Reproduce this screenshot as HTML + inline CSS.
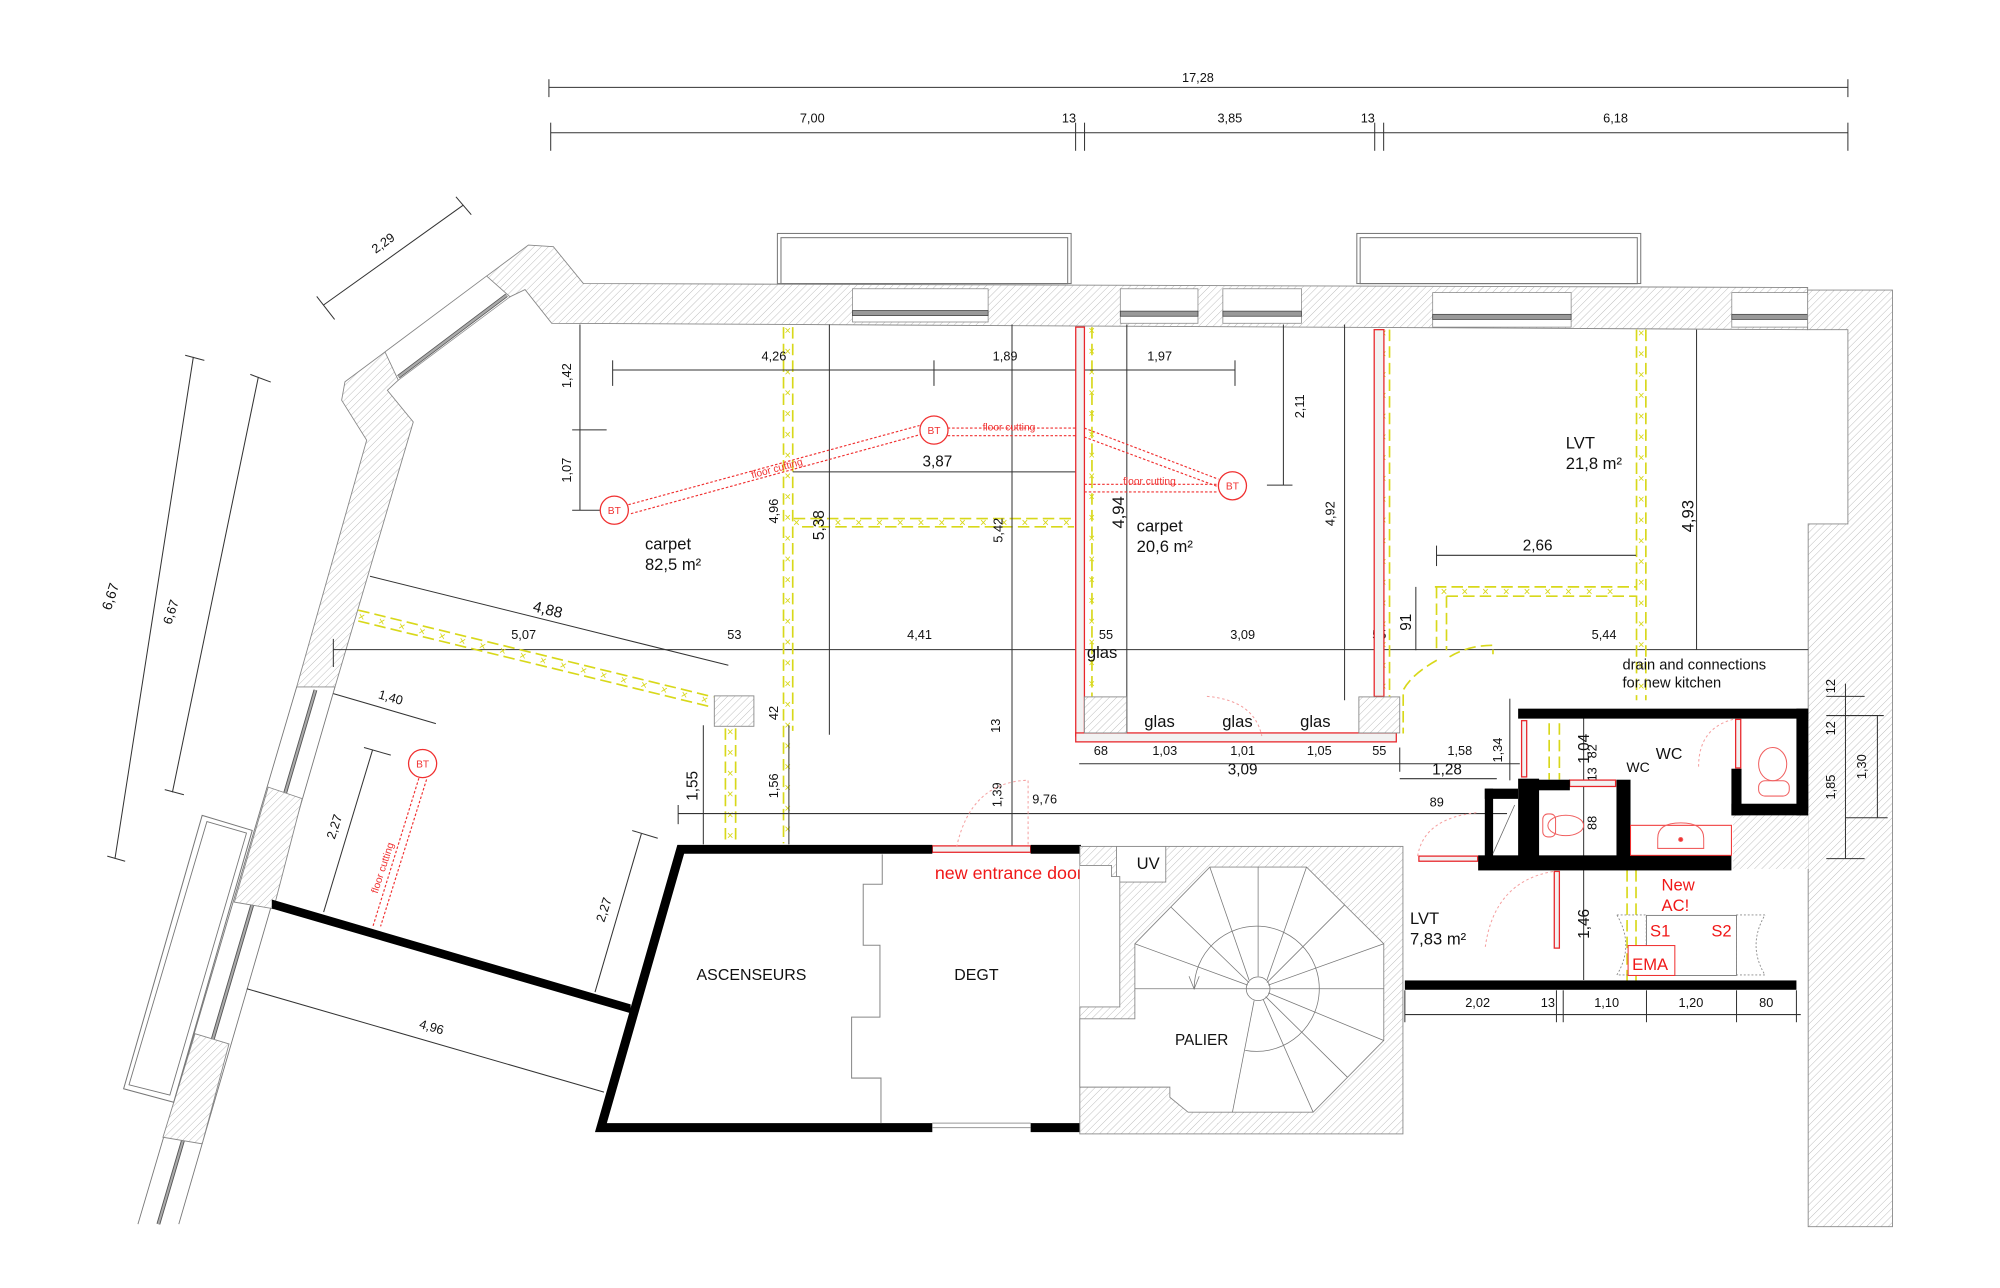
<!DOCTYPE html>
<html><head><meta charset="utf-8"><style>
html,body{margin:0;padding:0;background:#fff;}
svg{display:block;}
text{font-family:"Liberation Sans",sans-serif;}
</style></head><body>
<svg width="2000" height="1288" viewBox="0 0 1566 1008" preserveAspectRatio="none" xmlns="http://www.w3.org/2000/svg">
<defs>
<pattern id="h" width="4" height="4" patternUnits="userSpaceOnUse" patternTransform="rotate(45)">
<rect width="4" height="4" fill="#fff"/><line x1="0" y1="0" x2="0" y2="4" stroke="#b8b8b8" stroke-width="0.7"/></pattern>
<path id="y1" d="M617,256 L617,660"/>
<path id="y2" d="M621,409 L841,409"/>
<path id="y3" d="M280.5,482 L558,549"/>
<path id="y4" d="M855,256 L855,545"/>
<path id="y5" d="M1083,258 L1083,545"/>
<path id="y6" d="M1285,258 L1285,548"/>
<path id="y7" d="M1128,463 L1281,463"/>
<path id="y8" d="M572,570 L572,660"/>
</defs>
<rect width="1566" height="1008" fill="#fff"/>

<!-- top dimensions -->
<g stroke="#333" stroke-width="0.8" fill="none">
<line x1="429.8" y1="68.4" x2="1446.9" y2="68.4"/>
<line x1="429.8" y1="62" x2="429.8" y2="76"/><line x1="1446.9" y1="62" x2="1446.9" y2="76"/>
<line x1="431.2" y1="103.9" x2="1446.9" y2="103.9"/>
<line x1="431.2" y1="96" x2="431.2" y2="118"/><line x1="842.2" y1="96" x2="842.2" y2="118"/><line x1="849.2" y1="96" x2="849.2" y2="118"/>
<line x1="1076.4" y1="96" x2="1076.4" y2="118"/><line x1="1083.4" y1="96" x2="1083.4" y2="118"/><line x1="1446.9" y1="96" x2="1446.9" y2="118"/>
</g>
<g font-size="10" text-anchor="middle" fill="#111">
<text x="938" y="64">17,28</text>
<text x="636" y="96">7,00</text><text x="837" y="96">13</text><text x="963" y="96">3,85</text><text x="1071" y="96">13</text><text x="1265" y="96">6,18</text>
</g>

<!-- balconies -->
<g fill="none" stroke="#777" stroke-width="0.8">
<rect x="608.7" y="182.7" width="230" height="39.2"/><rect x="611.5" y="186" width="224.5" height="36"/>
<rect x="1062.4" y="182.7" width="222.3" height="39.2"/><rect x="1065" y="186" width="217" height="36"/>
</g>

<!-- top wall -->
<polygon points="413.7,191.8 433.3,193.1 456.8,221.9 1415.4,225 1415.4,258 432,253 411.1,226.6 399.3,232.3 381,216.1" fill="url(#h)" stroke="#888" stroke-width="0.7"/>
<g fill="#fff" stroke="#888" stroke-width="0.6">
<rect x="667.5" y="226" width="106.2" height="26"/><rect x="877.2" y="226" width="60.8" height="27"/>
<rect x="957.5" y="226" width="61.5" height="27"/><rect x="1121.8" y="229" width="108.4" height="27"/>
<rect x="1356" y="229" width="60.8" height="27"/>
</g>
<g fill="#999" stroke="#444" stroke-width="0.6">
<rect x="667.5" y="243" width="106.2" height="4"/><rect x="877.2" y="243.5" width="60.8" height="4"/>
<rect x="957.5" y="243.5" width="61.5" height="4"/><rect x="1121.8" y="246" width="108.4" height="4"/>
<rect x="1356" y="246" width="60.8" height="4"/>
</g>
<!-- right wall -->
<polygon points="1415.4,227 1481.8,227 1481.8,960 1415.8,960 1415.8,410 1446.9,410 1446.9,258 1415.4,258" fill="url(#h)" stroke="#888" stroke-width="0.7"/>
<rect x="1357" y="635" width="59" height="45" fill="url(#h)" stroke="none"/>

<!-- left wall -->
<polygon points="381,216.1 301.5,275.4 270.1,298.8 267.5,313.2 287.1,344.5 232.3,537.6 262.3,537.6 323.6,330.2 303.3,305.4 311.9,297.5 301.5,275.4" fill="url(#h)" stroke="#888" stroke-width="0.7"/>
<polygon points="381,216.1 399.3,232.3 311.9,297.5 301.5,275.4" fill="#fff" stroke="#888" stroke-width="0.6"/>
<line x1="311.9" y1="294.9" x2="396.7" y2="231" stroke="#555" stroke-width="3"/>
<line x1="311.9" y1="294.9" x2="396.7" y2="231" stroke="#aaa" stroke-width="1.8"/>
<g stroke="#777" stroke-width="0.7" fill="none">
<line x1="232.3" y1="537.6" x2="108" y2="958"/><line x1="262.3" y1="537.6" x2="140" y2="958"/>
</g>
<line x1="247" y1="540" x2="124" y2="958" stroke="#555" stroke-width="3"/>
<line x1="247" y1="540" x2="124" y2="958" stroke="#aaa" stroke-width="1.6"/>
<polygon points="210,616 236.6,625 214.2,711.2 183.5,706" fill="url(#h)" stroke="#888" stroke-width="0.7"/>
<polygon points="152.7,809 179.3,817 158.3,895.2 127.6,890" fill="url(#h)" stroke="#888" stroke-width="0.7"/>
<polygon points="158.3,638.1 197.5,649.9 136,862.6 96.8,852.1" fill="#fff" stroke="#777" stroke-width="0.8"/>
<polygon points="162,643 193,652 133,857 101,849" fill="none" stroke="#777" stroke-width="0.7"/>

<!-- left dims -->
<g stroke="#333" stroke-width="0.8" fill="none">
<line x1="253.2" y1="238.8" x2="362.8" y2="160.5"/>
<line x1="248" y1="232" x2="262" y2="250"/><line x1="357" y1="154" x2="369" y2="168"/>
<line x1="151.4" y1="279.3" x2="90" y2="672"/><line x1="145" y1="278" x2="160" y2="282"/><line x1="84" y1="670" x2="98" y2="674"/>
<line x1="202.3" y1="295" x2="135" y2="620"/><line x1="196" y1="293" x2="212" y2="299"/><line x1="129" y1="618" x2="144" y2="622"/>
<line x1="454.1" y1="254" x2="454.1" y2="399.3"/><line x1="448" y1="336.4" x2="475" y2="336.4"/><line x1="448" y1="399.3" x2="470" y2="399.3"/>
<line x1="289.7" y1="451" x2="570.3" y2="520.6"/>
<line x1="261" y1="508.4" x2="1416" y2="508.4"/>
<line x1="261" y1="500" x2="261" y2="522"/>
<line x1="261" y1="542.8" x2="341.3" y2="566.3"/>
<line x1="291.8" y1="586.6" x2="253.4" y2="713.8"/>
<line x1="285" y1="585" x2="306" y2="591"/>
<line x1="193.3" y1="773.8" x2="472.9" y2="854.7"/>
<line x1="502.2" y1="652.5" x2="465.9" y2="776.4"/><line x1="495" y1="650" x2="515" y2="656"/>
</g>
<g font-size="10" fill="#111" text-anchor="middle">
<text transform="translate(302,193) rotate(-36)">2,29</text>
<text transform="translate(90,468) rotate(-72)" font-size="11">6,67</text>
<text transform="translate(137,480) rotate(-72)">6,67</text>
<text transform="translate(447,294) rotate(-90)">1,42</text>
<text transform="translate(447,368) rotate(-90)">1,07</text>
<text transform="translate(428,481) rotate(14)" font-size="12">4,88</text>
<text x="410" y="500">5,07</text>
<text transform="translate(305,549) rotate(16)">1,40</text>
<text transform="translate(265,648) rotate(-72)">2,27</text>
<text transform="translate(476,713) rotate(-72)">2,27</text>
<text transform="translate(337,807) rotate(16)">4,96</text>
</g>

<!-- yellow lines -->
<g stroke="#d8d81a" stroke-width="1.3" fill="none" stroke-dasharray="9,4">
<line x1="613.5" y1="256" x2="613.5" y2="660"/><line x1="620.7" y1="256" x2="620.7" y2="572"/>
<line x1="621.5" y1="405.8" x2="841" y2="405.8"/><line x1="628" y1="412.3" x2="841" y2="412.3"/>
<line x1="280.5" y1="477.5" x2="558.5" y2="545.4"/><line x1="280.5" y1="486" x2="556" y2="553"/>
<line x1="568" y1="570" x2="568" y2="660"/><line x1="576" y1="570" x2="576" y2="660"/>
<line x1="855" y1="256" x2="855" y2="545"/>
<line x1="1078" y1="258" x2="1078" y2="545"/><line x1="1088" y1="258" x2="1088" y2="545"/>
<line x1="1281.4" y1="258" x2="1281.4" y2="548"/><line x1="1288.7" y1="258" x2="1288.7" y2="548"/>
<line x1="1123.5" y1="459.3" x2="1281.4" y2="459.3"/><line x1="1132.6" y1="466.6" x2="1281.4" y2="466.6"/>
<line x1="1124.8" y1="459.3" x2="1124.8" y2="508.9"/><line x1="1132.6" y1="466.6" x2="1132.6" y2="508.9"/>
<path d="M1125,516.7 Q1105,528 1098.7,540.2 L1098.7,574"/>
<path d="M1135,514 Q1150,505 1169,505 L1169,512"/>
<line x1="1213" y1="566" x2="1213" y2="610"/><line x1="1221" y1="566" x2="1221" y2="610"/>
<line x1="1274" y1="681" x2="1274" y2="770"/><line x1="1281" y1="681" x2="1281" y2="770"/>
</g>
<g fill="#d8d81a" font-size="9" letter-spacing="11">
<text dy="3"><textPath href="#y1">××××××××××××××××××××××××××××××××</textPath></text>
<text dy="3"><textPath href="#y2">××××××××××××××××××</textPath></text>
<text dy="3"><textPath href="#y3">××××××××××××××××××××××</textPath></text>
<text dy="3"><textPath href="#y4">××××××××××××××××××××××</textPath></text>
<text dy="3"><textPath href="#y5">××××××××××××××××××××××</textPath></text>
<text dy="3"><textPath href="#y6">××××××××××××××××××××××</textPath></text>
<text dy="3"><textPath href="#y7">××××××××××××</textPath></text>
<text dy="3"><textPath href="#y8">×××××××</textPath></text>
</g>

<!-- grey thin lines / dims in rooms -->
<g stroke="#333" stroke-width="0.8" fill="none">
<line x1="479.7" y1="289.6" x2="967" y2="289.6"/>
<line x1="479.7" y1="282" x2="479.7" y2="302"/><line x1="731.3" y1="282" x2="731.3" y2="302"/><line x1="967" y1="282" x2="967" y2="302"/>
<line x1="620.7" y1="369.3" x2="843" y2="369.3"/>
<line x1="1004.9" y1="254" x2="1004.9" y2="379.7"/><line x1="992" y1="379.7" x2="1012" y2="379.7"/>
<line x1="649.4" y1="254" x2="649.4" y2="575"/>
<line x1="792.4" y1="254" x2="792.4" y2="663"/>
<line x1="882.3" y1="254" x2="882.3" y2="580"/>
<line x1="1052.8" y1="254" x2="1052.8" y2="548"/>
<line x1="1328.4" y1="258" x2="1328.4" y2="508.4"/>
<line x1="1124.8" y1="434.6" x2="1281" y2="434.6"/><line x1="1124.8" y1="427" x2="1124.8" y2="443"/>
<line x1="1108.6" y1="459.3" x2="1108.6" y2="508.9"/>
<line x1="550.7" y1="567.6" x2="550.7" y2="660.8"/><line x1="617.7" y1="567.6" x2="617.7" y2="660.8"/>
<line x1="531" y1="636.7" x2="1180" y2="636.7"/><line x1="531" y1="630" x2="531" y2="645"/>
<line x1="845" y1="597.7" x2="1190" y2="597.7"/>
<line x1="1096" y1="609.4" x2="1172" y2="609.4"/>
<line x1="1182.2" y1="546.8" x2="1182.2" y2="610.7"/>
<line x1="1096" y1="585" x2="1096" y2="604"/>
<line x1="1100" y1="794" x2="1410" y2="794"/>
<line x1="1218.7" y1="775" x2="1218.7" y2="800"/><line x1="1224" y1="775" x2="1224" y2="800"/><line x1="1289.2" y1="775" x2="1289.2" y2="800"/><line x1="1359.7" y1="775" x2="1359.7" y2="800"/><line x1="1406.6" y1="775" x2="1406.6" y2="800"/><line x1="1100" y1="775" x2="1100" y2="800"/>
<line x1="1240" y1="562" x2="1240" y2="767"/>
<line x1="1445" y1="535" x2="1445" y2="672"/><line x1="1470" y1="560" x2="1470" y2="640"/>
<line x1="1430" y1="545" x2="1460" y2="545"/><line x1="1430" y1="560" x2="1475" y2="560"/><line x1="1430" y1="672" x2="1460" y2="672"/><line x1="1445" y1="640" x2="1478" y2="640"/>
</g>
<g font-size="10" fill="#111" text-anchor="middle">
<text x="606" y="282">4,26</text><text x="787" y="282">1,89</text><text x="908" y="282">1,97</text>
<text x="734" y="365" font-size="12">3,87</text>
<text transform="translate(1021,318) rotate(-90)">2,11</text>
<text transform="translate(609,400) rotate(-90)">4,96</text>
<text transform="translate(645,411) rotate(-90)" font-size="12">5,38</text>
<text transform="translate(785,415) rotate(-90)">5,42</text>
<text transform="translate(880,401) rotate(-90)" font-size="13">4,94</text>
<text transform="translate(1045,402) rotate(-90)">4,92</text>
<text transform="translate(1326,404) rotate(-90)" font-size="13">4,93</text>
<text x="1204" y="431" font-size="12">2,66</text>
<text transform="translate(1105,487) rotate(-90)" font-size="12">91</text>
<text x="575" y="500">53</text><text x="720" y="500">4,41</text><text x="866" y="500">55</text><text x="973" y="500">3,09</text><text x="1080" y="500">55</text><text x="1256" y="500">5,44</text>
<text transform="translate(609,558) rotate(-90)">42</text>
<text transform="translate(783,568) rotate(-90)">13</text>
<text transform="translate(546,615) rotate(-90)" font-size="12">1,55</text>
<text transform="translate(609,615) rotate(-90)">1,56</text>
<text transform="translate(784,622) rotate(-90)">1,39</text>
<text x="818" y="629">9,76</text>
<text x="862" y="591">68</text><text x="912" y="591">1,03</text><text x="973" y="591">1,01</text><text x="1033" y="591">1,05</text><text x="1080" y="591">55</text>
<text x="973" y="606" font-size="12">3,09</text>
<text x="1143" y="591">1,58</text><text x="1133" y="606" font-size="12">1,28</text><text x="1125" y="631">89</text>
<text transform="translate(1176,587) rotate(-90)">1,34</text>
<text transform="translate(1244,586) rotate(-90)" font-size="12">1,04</text>
<text transform="translate(1250,588) rotate(-90)">82</text>
<text transform="translate(1250,606) rotate(-90)">13</text>
<text transform="translate(1250,644) rotate(-90)">88</text>
<text transform="translate(1244,723) rotate(-90)" font-size="12">1,46</text>
<text transform="translate(1437,537) rotate(-90)">12</text>
<text transform="translate(1437,570) rotate(-90)">12</text>
<text transform="translate(1437,616) rotate(-90)">1,85</text>
<text transform="translate(1461,600) rotate(-90)">1,30</text>
<text x="1157" y="788">2,02</text><text x="1212" y="788">13</text><text x="1258" y="788">1,10</text><text x="1324" y="788">1,20</text><text x="1383" y="788">80</text>
</g>

<!-- red walls -->
<g fill="#f2f2f2" stroke="#e8262a" stroke-width="1">
<rect x="842.3" y="256" width="6.8" height="320"/>
<rect x="1076" y="258" width="7.6" height="287"/>
<rect x="842.3" y="573.6" width="251" height="7"/>
<rect x="1191.4" y="564" width="4" height="44"/>
<rect x="1229" y="610.5" width="36" height="5"/>
<rect x="1359" y="563" width="4" height="38"/>
<rect x="1217" y="682" width="4" height="60"/>
<rect x="1111" y="670" width="46" height="4"/>
<rect x="730" y="662" width="77" height="5"/>
</g>
<g fill="url(#h)" stroke="#888" stroke-width="0.7">
<rect x="559.3" y="544.6" width="31" height="23.8"/>
<rect x="849.1" y="545.4" width="33" height="28.2"/>
<rect x="1064" y="545.4" width="32" height="28.2"/>
</g>

<!-- floor cutting -->
<g stroke="#f03030" stroke-width="0.9" fill="none" stroke-dasharray="2,1.5">
<line x1="492" y1="395" x2="720" y2="333"/><line x1="494" y1="402" x2="721" y2="340"/>
<line x1="742" y1="335" x2="842" y2="335"/><line x1="742" y1="341" x2="842" y2="341"/>
<line x1="849" y1="335" x2="954" y2="375"/><line x1="849" y1="342" x2="954" y2="381"/>
<line x1="849" y1="379" x2="953" y2="379"/><line x1="849" y1="385" x2="953" y2="385"/>
<line x1="328" y1="609" x2="292" y2="725"/><line x1="334" y1="610" x2="298" y2="725"/>
</g>
<g fill="#fff" stroke="#f03030" stroke-width="1">
<circle cx="481" cy="399.3" r="11"/><circle cx="731.3" cy="336.6" r="11"/><circle cx="965" cy="380.2" r="11"/><circle cx="330.9" cy="597.6" r="11"/>
</g>
<g fill="#f03030" font-size="8" text-anchor="middle">
<text x="481" y="402.3">BT</text><text x="731.3" y="339.6">BT</text><text x="965" y="383.2">BT</text><text x="330.9" y="600.6">BT</text>
<text transform="translate(609,369) rotate(-15)">floor cutting</text>
<text x="790" y="337">floor cutting</text>
<text x="900" y="379">floor cutting</text>
<text transform="translate(302,680) rotate(-72)">floor cutting</text>
</g>
<g fill="none" stroke="#f5a0a0" stroke-width="0.8" stroke-dasharray="2,2">
<path d="M749,663 Q760,612 805,610.6 L805,663"/>
<path d="M945,545 Q982,548 988,576"/>
<path d="M1110,670 Q1115,640 1157,636"/>
<path d="M1216,682 Q1170,690 1163,741"/>
<path d="M1357,563 Q1330,570 1330,600"/>
</g>

<!-- black walls -->
<polygon points="212.8,704 493.8,786 493.8,793 212.8,711" fill="#000"/>
<g stroke="#000" stroke-width="7" fill="none" stroke-linejoin="miter">
<polyline points="730,664.7 533,664.7 470.5,882.5 730,882.5"/>
<line x1="807" y1="664.7" x2="846.4" y2="664.7"/>
<line x1="807" y1="882.5" x2="846.4" y2="882.5"/>
</g>
<line x1="730" y1="882.5" x2="807" y2="882.5" stroke="#999" stroke-width="0.8"/>
<line x1="730" y1="879" x2="807" y2="879" stroke="#999" stroke-width="0.8"/>
<polyline points="690.8,668.6 690.8,692 675.9,692 675.9,739.8 689,739.8 689,796 666.8,796 666.8,843.7 689.8,843.7 689.8,879" fill="none" stroke="#888" stroke-width="0.8"/>
<g font-size="12.5" fill="#111">
<text x="545.4" y="767">ASCENSEURS</text>
<text x="747.2" y="767">DEGT</text>
</g>
<text x="732" y="688" font-size="14" fill="#f01818">new entrance door</text>

<!-- stair -->
<rect x="845.5" y="662.4" width="253" height="225" fill="url(#h)" stroke="#888" stroke-width="0.7"/>
<polygon points="874.2,662.4 912.8,662.4 912.8,690.3 874.2,690.3" fill="#fff" stroke="#888" stroke-width="0.7"/>
<polygon points="845.5,677.3 870.3,677.3 870.3,686 876.8,686 876.8,788 845.5,788" fill="#fff" stroke="none"/>
<polyline points="845.5,677.3 870.3,677.3 870.3,686 876.8,686 876.8,788 845.5,788" fill="none" stroke="#888" stroke-width="0.7"/>
<polygon points="947.3,678.6 1023,678.6 1083.5,738.6 1083.5,814.3 1028.2,870.4 930.3,870.4 916,858.7 916,850.8 845.5,850.8 845.5,797.3 888.6,797.3 888.6,738.6" fill="#fff" stroke="#888" stroke-width="0.7"/>
<g stroke="#777" stroke-width="0.6" fill="none">
<line x1="888.6" y1="773.8" x2="1083.5" y2="773.8"/>
<line x1="985.1" y1="678.6" x2="985.1" y2="764"/>
<line x1="947.3" y1="678.6" x2="978" y2="767"/><line x1="1023" y1="678.6" x2="992" y2="767"/>
<line x1="917" y1="710" x2="978" y2="769"/><line x1="1053" y1="708" x2="992" y2="769"/>
<line x1="888.6" y1="738.6" x2="977" y2="771"/><line x1="1083.5" y1="738.6" x2="993" y2="771"/>
<line x1="1083.5" y1="814.3" x2="993" y2="777"/><line x1="1055" y1="843" x2="991" y2="780"/>
<line x1="1028.2" y1="870.4" x2="989" y2="782"/><line x1="965" y1="870.4" x2="982" y2="783"/>
<circle cx="985.1" cy="773.8" r="9.3"/>
<path d="M975,822 A49,49 0 1 0 935,773.8"/>
<path d="M931,764 L935,774 L939,764"/>
</g>
<text x="890" y="680" font-size="13" fill="#111">UV</text>
<text x="920" y="818" font-size="12" fill="#111">PALIER</text>

<!-- WC block -->
<g fill="#000">
<rect x="1188.7" y="554.6" width="227.1" height="7.8"/>
<rect x="1406.6" y="554.6" width="9.2" height="83.5"/>
<rect x="1355.7" y="629" width="60" height="9.1"/>
<rect x="1355.7" y="601.6" width="7.9" height="36.5"/>
<rect x="1188.7" y="609.4" width="16.4" height="65"/>
<rect x="1205" y="610.2" width="24.2" height="8.3"/>
<rect x="1265.7" y="610.2" width="11" height="64"/>
<rect x="1157.4" y="669.4" width="198.3" height="11.8"/>
<rect x="1162.6" y="617.2" width="6.5" height="55"/>
<rect x="1162.6" y="617.2" width="26" height="8"/>
<rect x="1100" y="767.3" width="306.6" height="7.3"/>
</g>
<rect x="1276.7" y="645.9" width="79" height="23.5" fill="#fff" stroke="#f03030" stroke-width="0.8"/>
<g fill="none" stroke="#f06060" stroke-width="0.8">
<path d="M1298,656 Q1298,644 1316,644 Q1334,644 1334,656 L1334,664 L1298,664 Z"/>
<circle cx="1316" cy="657" r="1.6" fill="#f03030"/>
<ellipse cx="1226" cy="646" rx="14" ry="8"/><rect x="1208" y="637" width="10" height="18" rx="4"/>
<ellipse cx="1388" cy="598" rx="11" ry="13"/><rect x="1377" y="611" width="24" height="12" rx="5"/>
</g>
<line x1="1169" y1="668" x2="1186" y2="630" stroke="#666" stroke-width="0.6"/>
<text x="1296.5" y="594" font-size="12.5" fill="#111">WC</text>
<text x="1273.5" y="604" font-size="11" fill="#111">WC</text>
<text x="1270.4" y="524" font-size="11.5" fill="#111">drain and connections</text>
<text x="1270.4" y="538" font-size="11.5" fill="#111">for new kitchen</text>

<!-- AC area -->
<rect x="1289.2" y="716.4" width="70.5" height="47" fill="none" stroke="#777" stroke-width="0.7"/>
<g fill="none" stroke="#888" stroke-width="0.7" stroke-dasharray="1.5,1.5">
<path d="M1266,716 L1289,716 L1289,763 L1266,763 Q1280,740 1266,716"/>
<path d="M1382,716 L1359.7,716 L1359.7,763 L1382,763 Q1368,740 1382,716"/>
</g>
<rect x="1274.8" y="740" width="36.6" height="23.4" fill="#fff" stroke="#f03030" stroke-width="0.8"/>
<g fill="#f01818">
<text x="1301" y="697" font-size="13">New</text>
<text x="1301" y="713" font-size="13">AC!</text>
<text x="1292" y="733" font-size="13">S1</text>
<text x="1340" y="733" font-size="13">S2</text>
<text x="1278" y="759" font-size="13">EMA</text>
</g>

<!-- room labels -->
<g fill="#111">
<text x="505" y="430" font-size="13">carpet</text>
<text x="505" y="446" font-size="13">82,5 m²</text>
<text x="890" y="416" font-size="13">carpet</text>
<text x="890" y="432" font-size="13">20,6 m²</text>
<text x="1226" y="351" font-size="13">LVT</text>
<text x="1226" y="367" font-size="13">21,8 m²</text>
<text x="1104" y="723" font-size="13">LVT</text>
<text x="1104" y="739" font-size="13">7,83 m²</text>
<text x="851" y="515" font-size="13">glas</text>
<text x="896" y="569" font-size="13">glas</text>
<text x="957" y="569" font-size="13">glas</text>
<text x="1018" y="569" font-size="13">glas</text>
</g>
</svg>
</body></html>
